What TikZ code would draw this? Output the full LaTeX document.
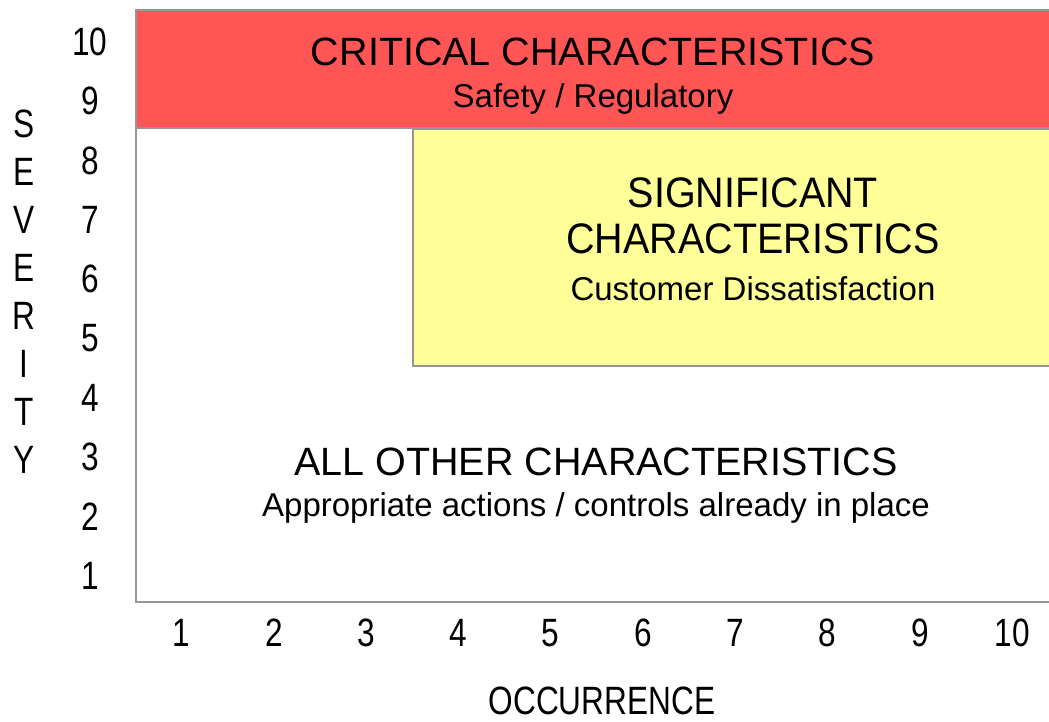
\documentclass[tikz,border=0pt]{standalone}
\usepackage{fontspec}
\setmainfont{Liberation Sans}
\definecolor{critred}{RGB}{255,85,85}
\definecolor{sigyellow}{RGB}{255,255,153}
\definecolor{framegray}{RGB}{150,150,150}
\begin{document}
\begin{tikzpicture}[x=1pt,y=-1pt,
  zone/.style={draw=framegray,line width=1.5pt},
  title/.style={font=\fontsize{39.5}{40}\selectfont,anchor=base,inner sep=0pt},
  subtitle/.style={font=\fontsize{33}{34}\selectfont,anchor=base,inner sep=0pt},
  axislabel/.style={font=\fontsize{39.5}{40}\selectfont,inner sep=0pt}]
\useasboundingbox (0,0) rectangle (1049,721);

% severity / occurrence zones
\begin{scope}
  \clip (0,0) rectangle (1049,721);
  \draw[zone] (136,10) rectangle (1100,602);
  \filldraw[zone,fill=sigyellow] (413,129) rectangle (1100,366);
  \filldraw[zone,fill=critred] (136,10) rectangle (1100,128);
\end{scope}

% zone captions
\node[title] (crit) at (593,65) {CRITICAL CHARACTERISTICS};
\node[subtitle] (critsub) at (593,107) {Safety / Regulatory};
\node[title] (sig1) at (753,207) {\scalebox{1}[1.08]{SIGNIFICANT}};
\node[title] (sig2) at (753,253) {\scalebox{1}[1.08]{CHARACTERISTICS}};
\node[subtitle] (sigsub) at (753,300.7) {Customer Dissatisfaction};
\node[title] (other) at (596,475) {ALL OTHER CHARACTERISTICS};
\node[subtitle] (othersub) at (596,516) {Appropriate actions / controls already in place};

% axis scales
\foreach \k in {1,...,10} {
  \node[axislabel] (sev\k) at (90,{42+(10-\k)*59.3}) {\scalebox{0.8}[1]{\k}};
  \node[axislabel] (occ\k) at ({181.5+(\k-1)*92.3},633) {\scalebox{0.8}[1]{\k}};
}

% axis titles
\foreach \l [count=\i from 0] in {S,E,V,E,R,I,T,Y}
  \node[axislabel] (sevletter\i) at (24,{124+48*\i}) {\scalebox{0.8}[1]{\l}};
\node[axislabel] (occtitle) at (602,701) {\scalebox{0.8}[1]{OCCURRENCE}};
\end{tikzpicture}
\end{document}
